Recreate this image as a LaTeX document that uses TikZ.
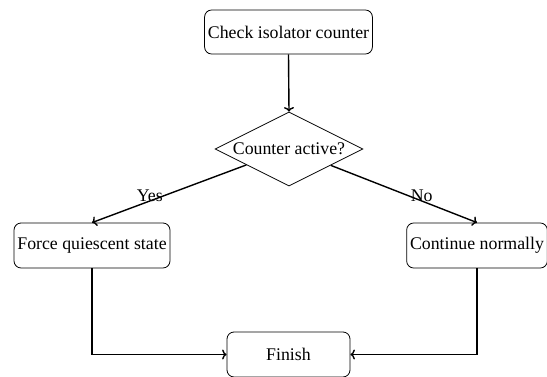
\documentclass[tikz,border=0pt]{standalone}
\usepackage{fontspec}
\setmainfont{Liberation Serif}
\usetikzlibrary{shapes.geometric,arrows.meta}
\begin{document}
\begin{tikzpicture}[x=1pt,y=-1pt,
  font=\fontsize{17.8}{21}\selectfont,
  box/.style={draw=black, line width=0.8pt, rounded corners=7pt, inner sep=0.3333em, minimum height=45pt},
  dec/.style={draw=black, line width=0.8pt, shape=diamond, aspect=2, inner sep=1pt, minimum width=148pt, minimum height=74pt},
  conn/.style={-{To[length=4.5pt,width=10pt]}, line width=1.4pt},
  lab/.style={inner sep=0pt}
]
\useasboundingbox (0,0) rectangle (547,377);
\node[box, minimum height=44pt] (check) at (288.5,32) {Check isolator counter};
\node[dec] (dia) at (289,149) {Counter active?};
\node[box] (left) at (92,245.5) {Force quiescent state};
\node[box] (right) at (477,245.5) {Continue normally};
\node[box, minimum width=123pt] (fin) at (288.5,354.5) {Finish};
\draw[conn] (check.south) -- (dia.north);
\draw[conn] (dia) -- node[lab, pos=0.625, yshift=5.2pt] {Yes} (left.north);
\draw[conn] (dia) -- node[lab, pos=0.622, yshift=5pt] {No} (right.north);
\draw[conn] (left.south) |- (fin.west);
\draw[conn] (right.south) |- (fin.east);
\end{tikzpicture}
\end{document}
